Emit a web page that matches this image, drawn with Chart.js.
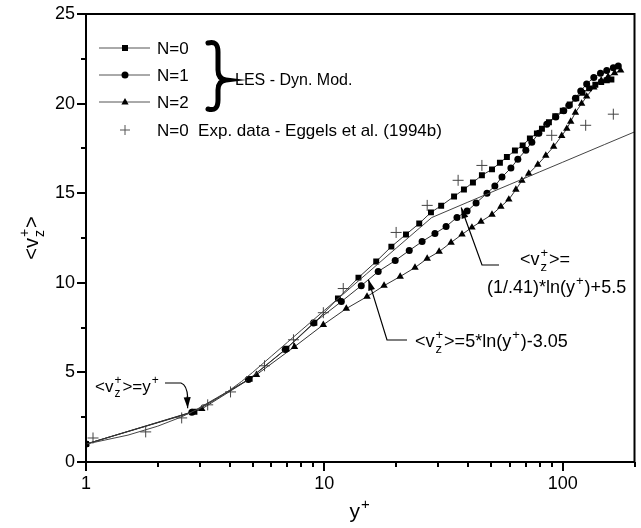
<!DOCTYPE html>
<html>
<head>
<meta charset="utf-8">
<script src="https://cdn.jsdelivr.net/npm/chart.js@4.4.1/dist/chart.umd.min.js"></script>
<style>
    html, body { margin: 0; padding: 0; background: #fff; }
    #chart { display: block; }
</style>
</head>
<body>
<canvas id="chart" width="641" height="528"></canvas>
<script>
// N=0 (squares)
const xN0 = [1.0, 2.85, 4.86, 6.93, 9.08, 11.4, 13.9, 16.5, 19.1, 22.0, 25.0, 28.0, 30.9, 35.0, 38.5, 42.0, 45.8, 50.5, 54.5, 58.3, 63.0, 67.9, 72.8, 77.9, 81.8, 87.5, 93.0, 100, 107, 114, 121, 129, 137, 145, 153, 160];
const yN0 = [1.0, 2.80, 4.64, 6.32, 7.77, 9.12, 10.29, 11.19, 12.02, 12.70, 13.31, 13.93, 14.30, 14.82, 15.21, 15.60, 16.00, 16.33, 16.70, 17.02, 17.38, 17.67, 18.06, 18.34, 18.60, 18.96, 19.30, 19.60, 19.95, 20.30, 20.60, 20.85, 21.05, 21.20, 21.30, 21.35];
// N=1 (circles)
const xN1 = [1.0, 2.78, 4.80, 6.85, 9.0, 11.78, 14.28, 16.82, 19.82, 22.7, 25.7, 29.1, 32.4, 36.0, 39.7, 43.3, 48.1, 51.9, 55.6, 60.6, 64.8, 70.0, 74.2, 79.4, 85.7, 93.5, 101, 106, 113, 119, 126, 135, 144, 153, 163, 171];
const yN1 = [1.0, 2.78, 4.60, 6.28, 7.75, 8.95, 9.84, 10.63, 11.24, 11.80, 12.30, 12.75, 13.14, 13.65, 14.00, 14.45, 15.00, 15.40, 15.90, 16.40, 16.90, 17.40, 17.85, 18.35, 18.85, 19.25, 19.60, 19.90, 20.30, 20.70, 21.10, 21.45, 21.70, 21.85, 22.00, 22.10];
// N=2 (triangles)
const xN2 = [1.0, 3.06, 5.19, 7.49, 9.9, 12.36, 15.1, 17.8, 20.8, 24.0, 27.0, 30.3, 34.0, 37.8, 41.6, 45.4, 50.5, 55.0, 59.4, 63.6, 67.4, 72.0, 78.6, 84.9, 91.6, 99, 104, 108, 113, 120, 126, 135, 145, 155, 165, 175];
const yN2 = [1.0, 2.96, 4.87, 6.43, 7.66, 8.56, 9.23, 9.84, 10.35, 10.85, 11.35, 11.74, 12.25, 12.70, 13.09, 13.42, 13.81, 14.25, 14.65, 15.20, 15.70, 16.10, 16.60, 17.10, 17.60, 18.20, 18.60, 19.00, 19.50, 20.00, 20.40, 20.90, 21.30, 21.50, 21.70, 21.85];
// Exp. data - Eggels et al. (1994b)
const xExp = [1.07, 1.78, 2.52, 3.24, 4.04, 5.61, 7.42, 9.9, 12.0, 20.0, 27.0, 36.4, 45.8, 89.9, 124.8, 163];
const yExp = [1.34, 1.68, 2.46, 3.19, 3.91, 5.37, 6.82, 8.33, 9.68, 12.81, 14.32, 15.72, 16.55, 18.23, 18.79, 19.41];
// wall laws: y+, 5*ln(y+)-3.05, (1/.41)*ln(y+)+5.5
const xLaw = [1, 1.5, 2, 2.5, 3, 3.5, 4, 4.5, 5, 6, 7, 8, 10, 12, 15, 20, 25, 28.2, 40, 60, 80, 100, 150, 200];
const yLaw = [1, 1.5, 2, 2.5, 3, 3.5, 4, 4.5, 5, 5.91, 6.68, 7.35, 8.46, 9.37, 10.49, 11.93, 13.04, 13.64, 14.50, 15.49, 16.19, 16.73, 17.72, 18.42];

const xMajor = [1, 10, 100];
const xMinor = [2, 3, 4, 5, 6, 7, 8, 9, 20, 30, 40, 50, 60, 70, 80, 90, 200];
const yMajor = [0, 5, 10, 15, 20, 25];
const yMinor = [2.5, 7.5, 12.5, 17.5, 22.5];

const FONT = '"Liberation Sans", Arial, sans-serif';

function pts(xs, ys) {
    return xs.map((x, i) => ({x: x, y: ys[i]}));
}

// rich text: parts are [text, kind] with kind 'n', 'sup', 'sub' or 'both' ([sub, sup])
function richText(ctx, x, y, parts, size, measureOnly) {
    let cx = x;
    const s = Math.round(size * 0.7);
    parts.forEach(([t, kind]) => {
        if (kind === 'n') {
            ctx.font = size + 'px ' + FONT;
            if (!measureOnly) ctx.fillText(t, cx, y);
            cx += ctx.measureText(t).width;
        } else if (kind === 'sup' || kind === 'sub') {
            ctx.font = s + 'px ' + FONT;
            const dy = kind === 'sup' ? -size * 0.45 : size * 0.3;
            if (!measureOnly) ctx.fillText(t, cx + 1, y + dy);
            cx += ctx.measureText(t).width + 2;
        } else {
            ctx.font = s + 'px ' + FONT;
            if (!measureOnly) {
                ctx.fillText(t[0], cx + 1, y + size * 0.32);
                ctx.fillText(t[1], cx + 1, y - size * 0.45);
            }
            cx += Math.max(ctx.measureText(t[0]).width, ctx.measureText(t[1]).width) + 2;
        }
    });
    return cx - x;
}

function arrow(ctx, path) {
    ctx.beginPath();
    ctx.moveTo(path[0][0], path[0][1]);
    for (let i = 1; i < path.length; i++) ctx.lineTo(path[i][0], path[i][1]);
    ctx.stroke();
    const [x1, y1] = path[path.length - 2];
    const [x2, y2] = path[path.length - 1];
    const a = Math.atan2(y2 - y1, x2 - x1);
    const len = 11, w = 3.5;
    ctx.beginPath();
    ctx.moveTo(x2, y2);
    ctx.lineTo(x2 - len * Math.cos(a) + w * Math.sin(a), y2 - len * Math.sin(a) - w * Math.cos(a));
    ctx.lineTo(x2 - len * Math.cos(a) - w * Math.sin(a), y2 - len * Math.sin(a) + w * Math.cos(a));
    ctx.closePath();
    ctx.fill();
}

function marker(ctx, style, x, y) {
    ctx.beginPath();
    if (style === 'rect') {
        ctx.rect(x - 3, y - 3, 6, 6);
        ctx.fill();
    } else if (style === 'circle') {
        ctx.arc(x, y, 3.5, 0, Math.PI * 2);
        ctx.fill();
    } else if (style === 'triangle') {
        ctx.moveTo(x, y - 4);
        ctx.lineTo(x + 3.6, y + 2.5);
        ctx.lineTo(x - 3.6, y + 2.5);
        ctx.closePath();
        ctx.fill();
    } else {
        ctx.lineWidth = 1;
        ctx.moveTo(x - 5, y); ctx.lineTo(x + 5, y);
        ctx.moveTo(x, y - 5); ctx.lineTo(x, y + 5);
        ctx.stroke();
    }
}

const frame = {
    id: 'frame',
    afterDraw(chart) {
        const ctx = chart.ctx;
        const a = chart.chartArea;
        const xs = chart.scales.x, ys = chart.scales.y;
        ctx.save();
        ctx.strokeStyle = '#000';
        ctx.fillStyle = '#000';

        // box
        ctx.lineWidth = 2;
        ctx.strokeRect(a.left, a.top, a.right - a.left, a.bottom - a.top);

        // ticks
        ctx.beginPath();
        yMajor.forEach(v => {
            const p = Math.round(ys.getPixelForValue(v));
            ctx.moveTo(a.left - 9, p); ctx.lineTo(a.left, p);
        });
        yMinor.forEach(v => {
            const p = Math.round(ys.getPixelForValue(v));
            ctx.moveTo(a.left - 5, p); ctx.lineTo(a.left, p);
        });
        xMajor.forEach(v => {
            const p = Math.round(xs.getPixelForValue(v));
            ctx.moveTo(p, a.bottom); ctx.lineTo(p, a.bottom + 9);
        });
        xMinor.forEach(v => {
            const p = Math.round(xs.getPixelForValue(v));
            ctx.moveTo(p, a.bottom); ctx.lineTo(p, a.bottom + 5);
        });
        ctx.stroke();

        // tick labels
        ctx.font = '18px ' + FONT;
        ctx.textAlign = 'right';
        ctx.textBaseline = 'middle';
        yMajor.forEach(v => ctx.fillText(String(v), a.left - 11, ys.getPixelForValue(v)));
        ctx.textAlign = 'center';
        ctx.textBaseline = 'top';
        xMajor.forEach(v => ctx.fillText(String(v), xs.getPixelForValue(v), a.bottom + 13));

        // axis titles
        ctx.textAlign = 'left';
        ctx.textBaseline = 'alphabetic';
        const xTitle = [['y', 'n'], ['+', 'sup']];
        const wx = richText(ctx, 0, 0, xTitle, 21, true);
        richText(ctx, (a.left + a.right) / 2 - wx / 2, 518, xTitle, 21);

        const yTitle = [['<v', 'n'], [['z', '+'], 'both'], ['>', 'n']];
        const wy = richText(ctx, 0, 0, yTitle, 20, true);
        ctx.save();
        ctx.translate(38, (a.top + a.bottom) / 2);
        ctx.rotate(-Math.PI / 2);
        richText(ctx, -wy / 2, 0, yTitle, 20);
        ctx.restore();

        // legend
        const rows = [['rect', 'N=0', 48], ['circle', 'N=1', 75], ['triangle', 'N=2', 102]];
        rows.forEach(([st, label, y]) => {
            ctx.strokeStyle = '#555';
            ctx.lineWidth = 1;
            ctx.beginPath();
            ctx.moveTo(99, y); ctx.lineTo(150, y);
            ctx.stroke();
            ctx.fillStyle = '#000';
            marker(ctx, st, 125, y);
            ctx.font = '17px ' + FONT;
            ctx.textBaseline = 'middle';
            ctx.fillText(label, 157, y + 1);
        });
        ctx.strokeStyle = '#555';
        marker(ctx, 'cross', 125, 130);
        ctx.fillStyle = '#000';
        ctx.font = '17px ' + FONT;
        ctx.fillText('N=0  Exp. data - Eggels et al. (1994b)', 157, 131);

        // brace
        ctx.strokeStyle = '#000';
        ctx.lineWidth = 5;
        ctx.lineCap = 'round';
        ctx.beginPath();
        ctx.moveTo(208, 43);
        ctx.quadraticCurveTo(218, 40, 218, 52);
        ctx.lineTo(218, 70);
        ctx.quadraticCurveTo(218, 79, 226, 80);
        ctx.quadraticCurveTo(218, 81, 218, 90);
        ctx.lineTo(218, 100);
        ctx.quadraticCurveTo(218, 112, 208, 109);
        ctx.stroke();
        ctx.lineCap = 'butt';
        ctx.font = '16px ' + FONT;
        ctx.fillText('LES - Dyn. Mod.', 235, 81);

        // annotations
        ctx.textBaseline = 'alphabetic';
        ctx.lineWidth = 1.2;
        ctx.strokeStyle = '#000';
        const vz = [['<v', 'n'], [['z', '+'], 'both'], ['>=', 'n']];
        richText(ctx, 95, 392, vz.concat([['y', 'n'], ['+', 'sup']]), 17);
        const t1x = xs.getPixelForValue(2.67), t1y = ys.getPixelForValue(3.0);
        ctx.beginPath();
        ctx.moveTo(165, 383);
        ctx.lineTo(181, 383);
        ctx.quadraticCurveTo(187, 385, t1x, t1y - 11);
        ctx.stroke();
        arrow(ctx, [[t1x - 0.5, t1y - 12], [t1x, t1y]]);

        richText(ctx, 520, 265, vz, 18);
        richText(ctx, 487, 293, [['(1/.41)*ln(y', 'n'], ['+', 'sup'], [')+5.5', 'n']], 18);
        arrow(ctx, [[499, 265], [482, 265], [xs.getPixelForValue(37.5), ys.getPixelForValue(14.2)]]);

        richText(ctx, 415, 347, vz.concat([['5*ln(y', 'n'], ['+', 'sup'], [')-3.05', 'n']]), 18);
        arrow(ctx, [[407, 340], [387, 340], [xs.getPixelForValue(15.3), ys.getPixelForValue(10.18)]]);

        ctx.restore();
    }
};

const lineColor = '#333';

new Chart(document.getElementById('chart'), {
    type: 'scatter',
    data: {
        datasets: [
            {
                label: 'law',
                data: pts(xLaw, yLaw),
                showLine: true,
                borderColor: '#444',
                borderWidth: 1,
                pointRadius: 0
            },
            {
                label: 'N=0',
                data: pts(xN0, yN0),
                showLine: true,
                borderColor: lineColor,
                borderWidth: 1,
                pointStyle: 'rect',
                pointRadius: 4.2,
                pointBackgroundColor: '#000',
                pointBorderColor: '#000',
                pointBorderWidth: 0
            },
            {
                label: 'N=1',
                data: pts(xN1, yN1),
                showLine: true,
                borderColor: lineColor,
                borderWidth: 1,
                pointStyle: 'circle',
                pointRadius: 3.5,
                pointBackgroundColor: '#000',
                pointBorderColor: '#000',
                pointBorderWidth: 0
            },
            {
                label: 'N=2',
                data: pts(xN2, yN2),
                showLine: true,
                borderColor: lineColor,
                borderWidth: 1,
                pointStyle: 'triangle',
                pointRadius: 4.3,
                pointBackgroundColor: '#000',
                pointBorderColor: '#000',
                pointBorderWidth: 0
            },
            {
                label: 'N=0 Exp. data - Eggels et al. (1994b)',
                data: pts(xExp, yExp),
                showLine: false,
                pointStyle: 'cross',
                pointRadius: 5.5,
                pointBorderColor: '#444',
                pointBorderWidth: 1
            }
        ]
    },
    options: {
        responsive: false,
        animation: false,
        devicePixelRatio: 1,
        layout: {padding: {left: 86, right: 5, top: 14, bottom: 66}},
        plugins: {legend: {display: false}, tooltip: {enabled: false}},
        scales: {
            x: {type: 'logarithmic', min: 1, max: 200, display: false},
            y: {type: 'linear', min: 0, max: 25, display: false}
        }
    },
    plugins: [frame]
});
</script>
</body>
</html>
